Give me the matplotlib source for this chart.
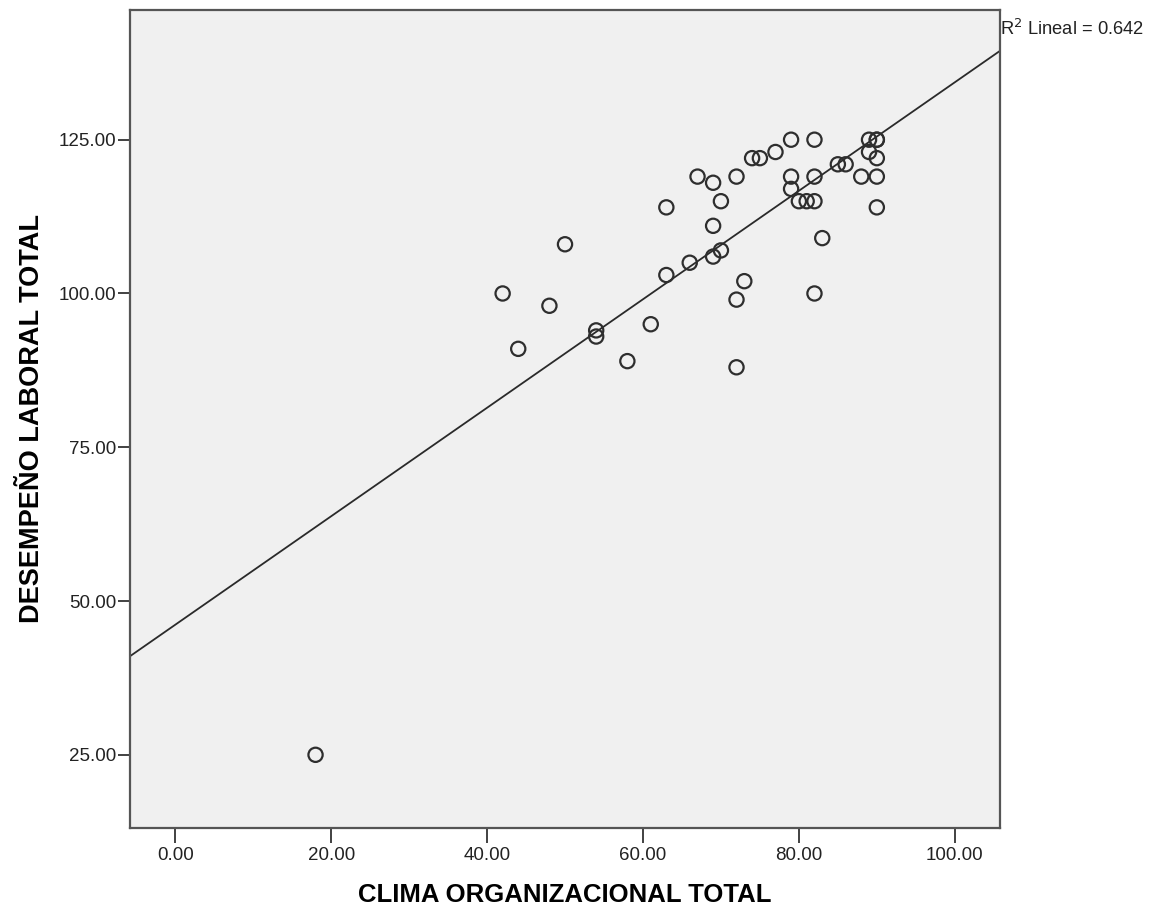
import matplotlib
matplotlib.use("Agg")
import matplotlib.pyplot as plt
import numpy as np

# Clima organizacional vs desempeño laboral, one row per respondent
clima = [18, 42, 44, 48, 50, 54, 54, 58, 61, 63, 63, 66, 67, 69, 69, 69,
         70, 70, 72, 72, 72, 73, 74, 75, 77, 79, 79, 79, 80, 81, 82, 82,
         82, 82, 83, 85, 86, 88, 89, 89, 90, 90, 90, 90, 90]
desempeno = [25, 100, 91, 98, 108, 94, 93, 89, 95, 114, 103, 105, 119, 118, 111, 106,
             115, 107, 119, 99, 88, 102, 122, 122, 123, 125, 119, 117, 115, 115, 115, 125,
             119, 100, 109, 121, 121, 119, 125, 123, 125, 125, 122, 119, 114]
r2_label = "0.642"

plt.rcParams["font.family"] = ["Liberation Sans", "DejaVu Sans"]

x = np.asarray(clima, dtype=float)
y = np.asarray(desempeno, dtype=float)
slope, intercept = np.polyfit(x, y, 1)

fig = plt.figure(figsize=(11.67, 9.09), dpi=100)
ax = fig.add_axes([0.1114, 0.0891, 0.7455, 0.9])
ax.set_facecolor("#f0f0f0")

xlim = (-5.8, 105.8)
ax.scatter(x, y, s=105, facecolors="none", edgecolors="#2e2e2e", linewidths=1.6, zorder=3)
xs = np.array(xlim)
ax.plot(xs, intercept + slope * xs, color="#2a2a2a", lw=1.3, zorder=2)

ax.set_xlim(*xlim)
ax.set_ylim(13.1, 146.1)
ax.set_xticks([0, 20, 40, 60, 80, 100])
ax.set_yticks([25, 50, 75, 100, 125])
ax.xaxis.set_major_formatter(matplotlib.ticker.FormatStrFormatter("%.2f"))
ax.yaxis.set_major_formatter(matplotlib.ticker.FormatStrFormatter("%.2f"))
ax.tick_params(axis="both", direction="out", width=1.3, color="#333333",
               labelsize=13.5, labelcolor="#222222")
ax.tick_params(axis="x", length=10.5, pad=3)
ax.tick_params(axis="y", length=8.6, pad=1)
for spine in ax.spines.values():
    spine.set_color("#555555")
    spine.set_linewidth(1.6)

ax.set_xlabel("CLIMA ORGANIZACIONAL TOTAL", fontsize=18.5, fontweight="bold", labelpad=14)
ax.set_ylabel("DESEMPEÑO LABORAL TOTAL", fontsize=19.5, fontweight="bold", labelpad=10)

ax.text(1.0, 0.977, r"R$^2$ Lineal = " + r2_label, transform=ax.transAxes,
        ha="left", va="center", fontsize=13.2, color="#222222")

fig.savefig("out.png", dpi=100, facecolor="white")
